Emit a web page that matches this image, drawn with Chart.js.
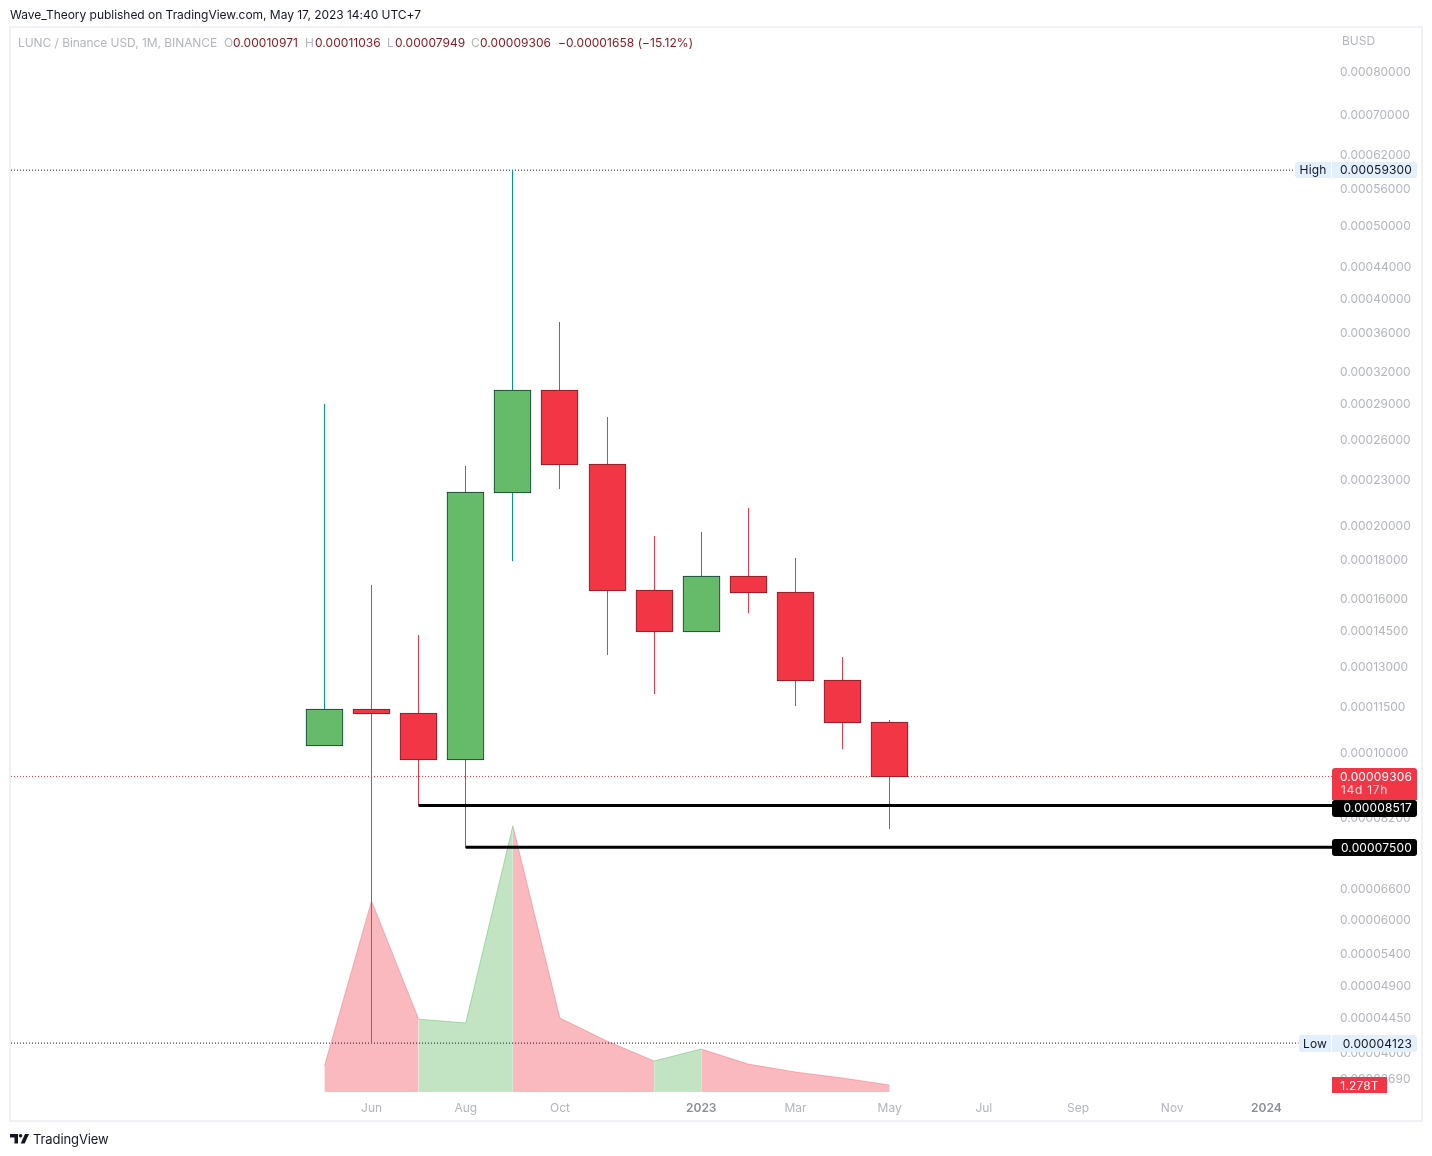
<!DOCTYPE html>
<html>
<head>
<meta charset="utf-8">
<title>LUNC / Binance USD</title>
<script src="https://cdn.jsdelivr.net/npm/chart.js@4"></script>
<style>
  html, body { margin: 0; padding: 0; background: #fff; }
  body { width: 1432px; height: 1156px; position: relative; overflow: hidden; font-family: Inter, "Noto Sans", sans-serif; }
  #frame { position: absolute; left: 9px; top: 26px; width: 1410px; height: 1092px; border: 2px solid #f0f1f6; }
  canvas { position: absolute; left: 0; top: 0; }
  .t { position: absolute; font-size: 12px; line-height: 14px; white-space: nowrap; }
  .g { color: #b2b5be; }
  .r { color: #8c1a26; }
</style>
</head>
<body>
<div id="frame"></div>
<canvas id="chart" width="1432" height="1156"></canvas>
<div class="t" style="left:10px;top:8px;color:#131722;letter-spacing:-0.03px">Wave_Theory published on TradingView.com, May 17, 2023 14:40 UTC+7</div>
<div class="t g" style="left:18px;top:36px;letter-spacing:-0.06px">LUNC / Binance USD, 1M, BINANCE</div>
<div class="t g" style="left:224px;top:36px">O</div><div class="t r" style="left:233px;top:36px;letter-spacing:0.05px">0.00010971</div>
<div class="t g" style="left:305px;top:36px">H</div><div class="t r" style="left:315px;top:36px;letter-spacing:0.05px">0.00011036</div>
<div class="t g" style="left:387px;top:36px">L</div><div class="t r" style="left:395px;top:36px;letter-spacing:0.05px">0.00007949</div>
<div class="t g" style="left:471px;top:36px">C</div><div class="t r" style="left:480px;top:36px;letter-spacing:0.05px">0.00009306</div>
<div class="t r" style="left:558px;top:36px;letter-spacing:0.05px">−0.00001658 (−15.12%)</div>
<div class="t g" style="left:1342px;top:34px">BUSD</div>
<svg style="position:absolute;left:10px;top:1134px" width="19" height="10" viewBox="0 0 19 10">
  <path d="M0 0h8v9.5H4.5V3.5H0z" fill="#131722"/>
  <circle cx="10.6" cy="1.8" r="1.8" fill="#131722"/>
  <path d="M19 0L14.7 9.5H10.7L15 0z" fill="#131722"/>
</svg>
<div class="t" style="left:33px;top:1132px;font-size:13px;color:#131722;letter-spacing:-0.1px">TradingView</div>

<script>
const months = ['May', 'Jun', 'Jul', 'Aug', 'Sep', 'Oct', 'Nov', 'Dec', '2023', 'Feb', 'Mar', 'Apr', 'May'];
const opens  = [0.0001023, 0.0001142, 0.0001127, 0.0000979, 0.0002216, 0.0003029, 0.0002417, 0.0001645, 0.0001449, 0.0001712, 0.0001635, 0.0001248, 0.00010971];
const highs  = [0.000290, 0.0001668, 0.0001432, 0.0002399, 0.000593, 0.0003724, 0.0002786, 0.0001937, 0.0001961, 0.000211, 0.0001811, 0.0001339, 0.00011036];
const lows   = [0.0001023, 0.00004123, 0.00008517, 0.000075, 0.00018, 0.0002243, 0.0001351, 0.0001199, 0.0001449, 0.0001536, 0.0001156, 0.0001014, 0.00007949];
const closes = [0.0001142, 0.0001127, 0.0000979, 0.0002216, 0.0003029, 0.0002417, 0.0001645, 0.0001449, 0.0001712, 0.0001635, 0.0001248, 0.00010971, 0.00009306];
// volume, in trillions
const volumes = [4.75, 34.9, 13.3, 12.6, 48.6, 13.5, 9.3, 5.66, 7.85, 5.1, 3.65, 2.56, 1.278];

const priceTicks = [0.0008, 0.0007, 0.00062, 0.00056, 0.0005, 0.00044, 0.0004, 0.00036, 0.00032, 0.00029, 0.00026, 0.00023,
  0.0002, 0.00018, 0.00016, 0.000145, 0.00013, 0.000115, 0.0001, 0.000082, 0.000066, 0.00006, 0.000054, 0.000049, 0.0000445, 0.00004, 0.0000369];
const timeTickIndex = [1, 3, 5, 8, 10, 12, 14, 16, 18, 20];
const timeTickLabels = ['Jun', 'Aug', 'Oct', '2023', 'Mar', 'May', 'Jul', 'Sep', 'Nov', '2024'];

const allHigh = 0.000593;
const allLow = 0.00004123;
const lastClose = 0.00009306;
const level1 = 0.00008517;
const level2 = 0.000075;

const xMin = -6.655, xMax = 21.392;
const GREEN = '#66bb6a', RED = '#f23645', TEAL = '#089981';

const isUp = i => closes[i] >= opens[i];
const fmt = v => v.toFixed(8);
const isYear = c => !!c.tick && (c.tick.value === 8 || c.tick.value === 20);

// candles end up blurry on fractional pixels, so snap them
const snapBars = {
  id: 'snapBars',
  afterDatasetsUpdate(chart) {
    chart.getSortedVisibleDatasetMetas().forEach(meta => {
      if (meta.type !== 'bar') return;
      meta.data.forEach(el => {
        const top = Math.floor(Math.min(el.y, el.base));
        const bottom = Math.ceil(Math.max(el.y, el.base));
        el.x = Math.floor(el.x) + 0.5;
        el.y = top;
        el.base = bottom;
      });
    });
  }
};

function tag(ctx, x, y, w, h, bg, r) {
  ctx.fillStyle = bg;
  ctx.beginPath();
  ctx.roundRect(x, y, w, h, r);
  ctx.fill();
}

function tagText(ctx, text, x, y, color, align) {
  ctx.fillStyle = color;
  ctx.textAlign = align || 'right';
  ctx.textBaseline = 'middle';
  ctx.fillText(text, x, y);
}

const priceTags = {
  id: 'priceTags',
  afterDraw(chart) {
    const { ctx } = chart;
    const yS = chart.scales.y, vS = chart.scales.v;
    ctx.save();
    ctx.font = '12px Inter';
    ctx.letterSpacing = '0.15px';

    let y = Math.round(yS.getPixelForValue(allHigh));
    tag(ctx, 1295, y - 8, 36, 16, '#e3effd', [3, 0, 0, 3]);
    tag(ctx, 1332, y - 8, 85, 16, '#e3effd', [0, 3, 3, 0]);
    tagText(ctx, 'High', 1313, y, '#131722', 'center');
    tagText(ctx, fmt(allHigh), 1412, y, '#131722');

    y = Math.round(yS.getPixelForValue(allLow));
    tag(ctx, 1299, y - 8, 32, 17, '#e3effd', [3, 0, 0, 3]);
    tag(ctx, 1332, y - 8, 85, 17, '#e3effd', [0, 3, 3, 0]);
    tagText(ctx, 'Low', 1315, y + 1, '#131722', 'center');
    tagText(ctx, fmt(allLow), 1412, y + 1, '#131722');

    y = Math.round(yS.getPixelForValue(lastClose));
    tag(ctx, 1332, y - 9, 85, 32, RED, [3, 3, 0, 0]);
    tagText(ctx, fmt(lastClose), 1412, y, '#fff');
    ctx.letterSpacing = '0.7px';
    tagText(ctx, '14d 17h', 1341, y + 13, 'rgba(255,255,255,0.8)', 'left');
    ctx.letterSpacing = '0.15px';

    y = Math.round(yS.getPixelForValue(level1));
    tag(ctx, 1332, y - 6, 85, 17, '#000', [3]);
    tagText(ctx, fmt(level1), 1412, y + 2, '#fff');

    y = Math.round(yS.getPixelForValue(level2));
    tag(ctx, 1332, y - 8, 85, 17, '#000', [3]);
    tagText(ctx, fmt(level2), 1412, y + 1, '#fff');

    y = Math.round(vS.getPixelForValue(volumes[volumes.length - 1]));
    tag(ctx, 1332, y - 8, 55, 16, RED, 0);
    tagText(ctx, '1.278T', 1359.5, y + 1, '#fff', 'center');
    ctx.restore();
  }
};

const level = (x0, x1, v, color, width, dash, order) => ({
  type: 'line',
  data: [{ x: x0, y: v }, { x: x1, y: v }],
  borderColor: color,
  borderWidth: width,
  borderDash: dash,
  pointRadius: 0,
  order: order
});

new Chart(document.querySelector('#chart').getContext('2d'), {
  type: 'bar',
  plugins: [snapBars, priceTags],
  data: {
    datasets: [
      {
        // volume area
        type: 'line',
        yAxisID: 'v',
        data: volumes.map((v, i) => ({ x: i, y: v })),
        fill: { value: 0 },
        pointRadius: 0,
        borderWidth: 1,
        tension: 0,
        segment: {
          backgroundColor: c => isUp(c.p1DataIndex) ? 'rgba(102,187,106,0.4)' : 'rgba(242,54,69,0.35)',
          borderColor: c => isUp(c.p1DataIndex) ? 'rgba(102,187,106,0.5)' : 'rgba(242,54,69,0.3)'
        },
        order: 6
      },
      level(xMin, 20.6, allHigh, '#131722', 1, [1, 2], 5),
      level(xMin, 20.68, allLow, '#131722', 1, [1, 2], 5),
      level(xMin, xMax, lastClose, RED, 1, [1, 2], 5),
      {
        // wicks
        data: months.map((m, i) => ({ x: i, y: [lows[i], highs[i]] })),
        backgroundColor: months.map((m, i) => isUp(i) ? TEAL : RED),
        borderWidth: 0,
        inflateAmount: 0,
        barThickness: 1,
        grouped: false,
        order: 4
      },
      {
        // bodies
        data: months.map((m, i) => ({ x: i, y: [opens[i], closes[i]] })),
        backgroundColor: months.map((m, i) => isUp(i) ? GREEN : RED),
        borderColor: months.map((m, i) => isUp(i) ? '#0d3b30' : '#801922'),
        borderWidth: 1,
        borderSkipped: false,
        barThickness: 37,
        grouped: false,
        order: 3
      },
      level(2, xMax, level1, '#000', 3, [], 2),
      level(3, xMax, level2, '#000', 3, [], 2)
    ]
  },
  options: {
    responsive: false,
    animation: false,
    layout: { padding: { left: 11, top: 28, right: 10, bottom: 35 } },
    plugins: { legend: { display: false }, tooltip: { enabled: false } },
    scales: {
      x: {
        type: 'linear',
        offset: false,
        min: xMin,
        max: xMax,
        grid: { display: false, drawTicks: false },
        border: { display: false },
        afterBuildTicks: axis => { axis.ticks = timeTickIndex.map(v => ({ value: v })); },
        afterFit: axis => { axis.height = 25; },
        ticks: {
          autoSkip: false,
          maxRotation: 0,
          padding: 5,
          callback: v => timeTickLabels[timeTickIndex.indexOf(v)],
          color: c => isYear(c) ? '#8a8e99' : '#b2b5be',
          font: c => ({ family: 'Inter', size: 12, weight: isYear(c) ? '600' : '400' })
        }
      },
      y: {
        type: 'logarithmic',
        position: 'right',
        min: 0.00003508,
        max: 0.0009154,
        grid: { display: false, drawTicks: false },
        border: { display: false },
        afterBuildTicks: axis => { axis.ticks = priceTicks.map(v => ({ value: v })); },
        afterFit: axis => { axis.width = 90; },
        ticks: {
          autoSkip: false,
          padding: 8,
          crossAlign: 'near',
          color: '#b2b5be',
          font: { family: 'Inter', size: 12 },
          callback: v => fmt(v)
        }
      },
      v: {
        type: 'linear',
        display: false,
        min: -0.73,
        max: 194.3
      }
    }
  }
});
</script>
</body>
</html>
